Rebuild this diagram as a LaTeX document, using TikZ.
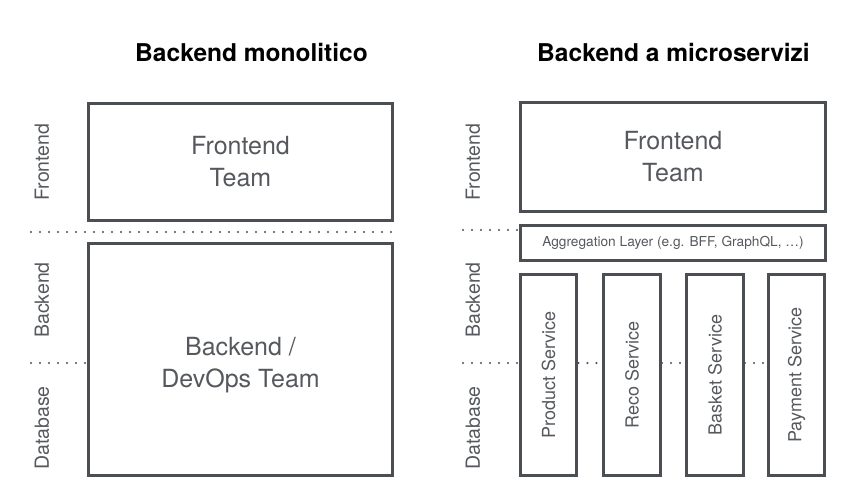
\documentclass[tikz,border=0pt]{standalone}
\usepackage{fontspec}
\setmainfont{TeX Gyre Heros}
\usepackage{tikz}
\usetikzlibrary{positioning}
\definecolor{boxgray}{HTML}{4B4E53}
\definecolor{txtgray}{HTML}{55585D}
\tikzset{
    teambox/.style={draw=boxgray,line width=3.4pt,inner sep=0pt,align=center,
        text=txtgray,font=\fontsize{25}{32}\selectfont},
    svcbox/.style={draw=boxgray,line width=3.4pt,inner sep=0pt,
        minimum width=56.5pt,minimum height=201pt},
    svclabel/.style={rotate=90,text=txtgray,font=\fontsize{18}{22}\selectfont},
    layerlabel/.style={rotate=90,text=txtgray,font=\fontsize{19.5}{22}\selectfont},
    title/.style={font=\bfseries\fontsize{24.5}{28}\selectfont},
    sep/.style={boxgray,line width=2.4pt,line cap=round,dash pattern=on 0pt off 9pt}
}

\begin{document}
\begin{tikzpicture}[x=1pt,y=-1pt]
    \useasboundingbox (0,0) rectangle (851,499);

    % titles
    \node[title] (tmono) at (251.5,52) {Backend monolitico};
    \node[title] (tmicro) at (673.5,52) {Backend a microservizi};

    % monolithic backend
    \node[teambox,minimum width=304pt,minimum height=117pt] (feA) at (240.5,162) {Frontend\\Team};
    \node[teambox,minimum width=304pt,minimum height=232pt] (beA) at (240.5,359.5) {};
    \node[teambox,draw=none] (beAtxt) at ([yshift=-6pt]beA.center) {Backend /\\DevOps Team};
    \node[layerlabel] (lfA) at (42,162) {Frontend};
    \node[layerlabel] (lbA) at (42,300) {Backend};
    \node[layerlabel] (ldA) at (42,428) {Database};
    \coordinate (sA1) at (31,232);
    \coordinate (sA2) at (394,232);
    \coordinate (sA3) at (31,363);
    \draw[sep] (sA1) -- (sA2);
    \draw[sep] (sA3) -- (sA3 -| beA.west);

    % microservices backend
    \node[teambox,minimum width=305pt,minimum height=109pt] (feB) at (673,157) {Frontend\\Team};
    \node[teambox,minimum width=305pt,minimum height=35pt,
        font=\fontsize{13.7}{16}\selectfont] (agg) at (673,243) {Aggregation Layer (e.g. BFF, GraphQL, …)};
    \node[svcbox] (prod) at (548.5,375) {};
    \node[svcbox] (reco) at (632,375) {};
    \node[svcbox] (bask) at (715,375) {};
    \node[svcbox] (pay) at (796.5,375) {};
    \node[svclabel] at (prod) {Product Service};
    \node[svclabel] at (reco) {Reco Service};
    \node[svclabel] at (bask) {Basket Service};
    \node[svclabel] at (pay) {Payment Service};
    \node[layerlabel] (lfB) at (473,162) {Frontend};
    \node[layerlabel] (lbB) at (473,300) {Backend};
    \node[layerlabel] (ldB) at (473,428) {Database};
    \coordinate (sB1) at (463,230);
    \coordinate (sB2) at (463,363);
    \draw[sep] (sB1) -- (sB1 -| agg.west);
    \draw[sep] (sB2) -- (sB2 -| prod.west);
    \draw[sep] (sB2 -| prod.east) -- (sB2 -| reco.west);
    \draw[sep] (sB2 -| reco.east) -- (sB2 -| bask.west);
    \draw[sep] (sB2 -| bask.east) -- (sB2 -| pay.west);
\end{tikzpicture}
\end{document}
